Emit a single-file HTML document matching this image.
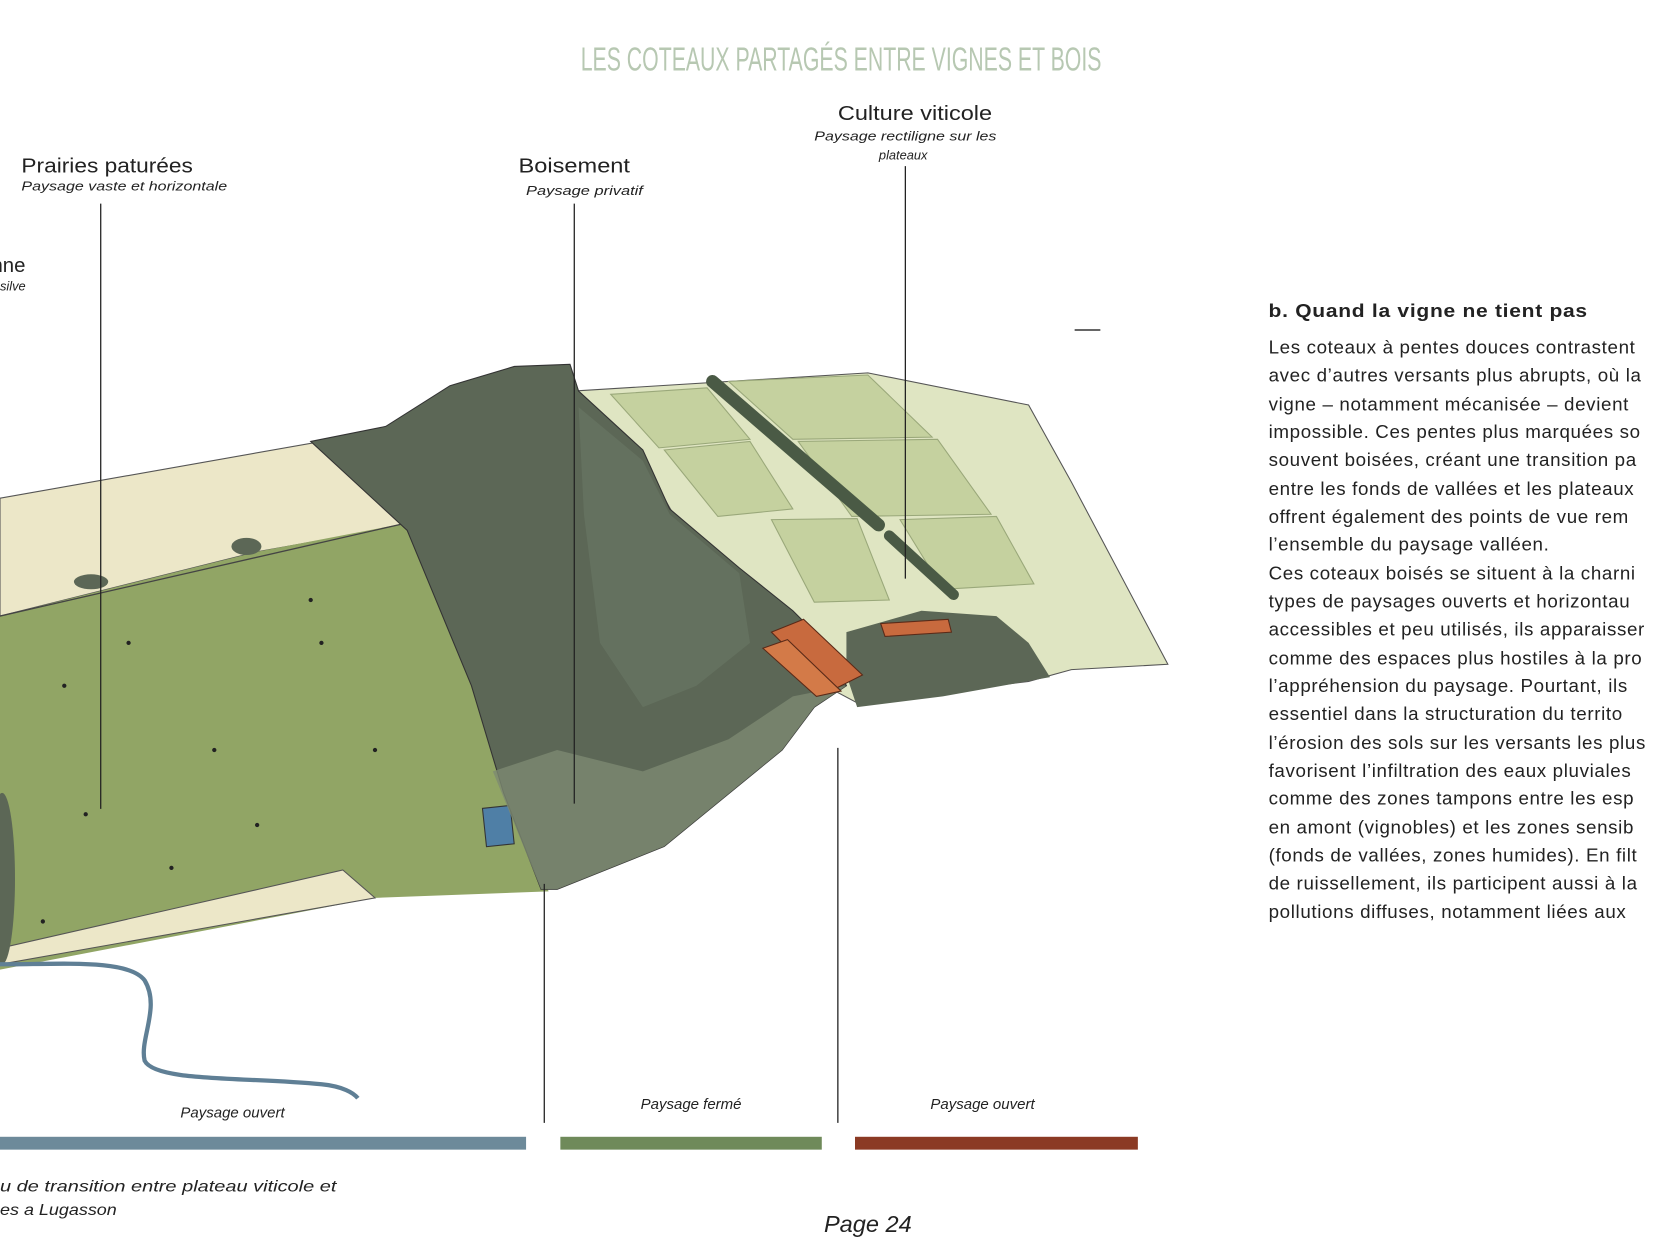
<!DOCTYPE html>
<html><head><meta charset="utf-8">
<style>
html,body{margin:0;padding:0;background:#fff;}
svg{display:block;}
text{font-family:"Liberation Sans",sans-serif;}
</style></head>
<body>
<svg width="1680" height="1260" viewBox="0 0 1568 1176" xmlns="http://www.w3.org/2000/svg">
<rect width="1568" height="1176" fill="#fff"/>
<text x="785" y="66" text-anchor="middle" font-family="Liberation Sans Narrow, Liberation Sans, sans-serif" font-size="31" fill="#b7c8b2" textLength="486" lengthAdjust="spacingAndGlyphs">LES COTEAUX PARTAGÉS ENTRE VIGNES ET BOIS</text>

<polygon points="0,465 300,412 380,490 240,515 0,575" fill="#ece7c8" stroke="#555" stroke-width="1"/>
<polygon points="0,575 240,515 380,488 440,640 480,740 512,832 350,838 0,905" fill="#91a565"/>
<polygon points="320,812 350,838 0,900 0,885" fill="#ece7c8" stroke="#555" stroke-width="1"/>
<line x1="0" y1="575" x2="380" y2="488" stroke="#444" stroke-width="1.2"/>
<ellipse cx="230" cy="510" rx="14" ry="8" fill="#5c6756"/>
<ellipse cx="85" cy="543" rx="16" ry="7" fill="#5c6756"/>
<rect x="452" y="753" width="26" height="36" fill="#4f7fa6" stroke="#333" stroke-width="1" transform="rotate(-6 465 770)"/>
<polygon points="535,365 810,348 960,378 1000,450 1090,620 1000,625 960,636 800,656 770,640 720,560 640,500 600,430" fill="#dfe5c2" stroke="#555" stroke-width="1"/>
<g fill="#c5d19f" stroke="#9aa87a" stroke-width="1">
<polygon points="570,368 660,362 700,410 615,418"/>
<polygon points="620,420 700,412 740,475 670,482"/>
<polygon points="680,356 810,350 870,408 740,410"/>
<polygon points="745,412 875,410 925,480 795,482"/>
<polygon points="720,485 800,484 830,560 760,562"/>
<polygon points="840,485 930,482 965,545 880,550"/>
</g>
<path d="M665,356 L820,490" stroke="#4a5a45" stroke-width="12" stroke-linecap="round"/>
<path d="M830,500 L890,555" stroke="#4a5a45" stroke-width="10" stroke-linecap="round"/>
<polygon points="290,412 360,398 420,360 480,342 532,340 540,365 600,420 625,475 690,530 740,570 770,600 790,640 760,660 730,700 620,790 520,830 505,830 470,740 440,640 380,495" fill="#5c6756" stroke="#333" stroke-width="1"/>
<polygon points="540,380 600,430 625,480 690,535 700,600 650,640 600,660 560,600 545,480" fill="#677461" opacity="0.8"/>
<polygon points="460,720 520,700 600,720 680,690 740,650 790,640 760,660 730,700 620,790 520,830 505,830" fill="#7d8a72" opacity="0.8"/>
<polygon points="790,590 860,570 930,575 960,600 980,632 880,650 800,660 790,630" fill="#5c6756"/>
<polygon points="720,590 750,578 805,630 775,645" fill="#c86a3e" stroke="#5a2a18" stroke-width="1"/>
<polygon points="712,605 735,597 785,645 762,650" fill="#d37a48" stroke="#5a2a18" stroke-width="1"/>
<polygon points="822,582 885,578 888,590 826,594" fill="#c86a3e" stroke="#5a2a18" stroke-width="1"/>
<ellipse cx="2" cy="820" rx="12" ry="80" fill="#5c6756"/>
<path d="M0,900 C60,900 120,895 135,915 C150,940 130,970 135,990 C145,1010 230,1005 300,1012 C320,1014 330,1020 334,1025" stroke="#5f7f95" stroke-width="4" fill="none"/>
<g fill="#222">
<circle cx="60" cy="640" r="2"/><circle cx="120" cy="600" r="2"/><circle cx="300" cy="600" r="2"/><circle cx="200" cy="700" r="2"/><circle cx="240" cy="770" r="2"/><circle cx="80" cy="760" r="2"/><circle cx="40" cy="860" r="2"/><circle cx="160" cy="810" r="2"/><circle cx="350" cy="700" r="2"/><circle cx="290" cy="560" r="2"/>
</g>
<g stroke="#222" stroke-width="1.2">
<line x1="94" y1="190" x2="94" y2="755"/>
<line x1="536" y1="190" x2="536" y2="750"/>
<line x1="845" y1="155" x2="845" y2="540"/>
<line x1="508" y1="825" x2="508" y2="1048"/>
<line x1="782" y1="698" x2="782" y2="1048"/>
</g>
<line x1="1003" y1="308" x2="1027" y2="308" stroke="#333" stroke-width="1.5"/>
<g fill="#222">
<text x="20" y="161" font-size="19" textLength="160" lengthAdjust="spacingAndGlyphs">Prairies paturées</text>
<text x="20" y="178" font-size="12" font-style="italic" textLength="192" lengthAdjust="spacingAndGlyphs">Paysage vaste et horizontale</text>
<text x="-8" y="254" font-size="19">nne</text>
<text x="0" y="271" font-size="12" font-style="italic">silve</text>
<text x="484" y="161" font-size="19" textLength="104" lengthAdjust="spacingAndGlyphs">Boisement</text>
<text x="491" y="182" font-size="12" font-style="italic" textLength="109" lengthAdjust="spacingAndGlyphs">Paysage privatif</text>
<text x="782" y="112" font-size="19" textLength="144" lengthAdjust="spacingAndGlyphs">Culture viticole</text>
<text x="760" y="131" font-size="12" font-style="italic" textLength="170" lengthAdjust="spacingAndGlyphs">Paysage rectiligne sur les</text>
<text x="843" y="149" font-size="12" font-style="italic" text-anchor="middle">plateaux</text>
<text x="217" y="1043" font-size="14" font-style="italic" text-anchor="middle">Paysage ouvert</text>
<text x="645" y="1035" font-size="14" font-style="italic" text-anchor="middle">Paysage fermé</text>
<text x="917" y="1035" font-size="14" font-style="italic" text-anchor="middle">Paysage ouvert</text>
<text x="0" y="1112" font-size="15" font-style="italic" textLength="314" lengthAdjust="spacingAndGlyphs">u de transition entre plateau viticole et</text>
<text x="0" y="1134" font-size="15" font-style="italic" textLength="109" lengthAdjust="spacingAndGlyphs">es a Lugasson</text>
<text x="810" y="1150" font-size="22" font-style="italic" text-anchor="middle">Page 24</text>
</g>
<rect x="0" y="1061" width="491" height="12" fill="#6d8a9a"/>
<rect x="523" y="1061" width="244" height="12" fill="#6f8a5a"/>
<rect x="798" y="1061" width="264" height="12" fill="#8b3a24"/>
<g fill="#222" font-size="17.5" letter-spacing="0.6">
<text x="1184" y="296" font-weight="bold" textLength="298" lengthAdjust="spacingAndGlyphs">b. Quand la vigne ne tient pas</text>
<text x="1184" y="330">Les coteaux à pentes douces contrastent</text>
<text x="1184" y="356">avec d’autres versants plus abrupts, où la</text>
<text x="1184" y="383">vigne – notamment mécanisée – devient</text>
<text x="1184" y="409">impossible. Ces pentes plus marquées so</text>
<text x="1184" y="435">souvent boisées, créant une transition pa</text>
<text x="1184" y="462">entre les fonds de vallées et les plateaux</text>
<text x="1184" y="488">offrent également des points de vue rem</text>
<text x="1184" y="514">l’ensemble du paysage valléen.</text>
<text x="1184" y="541">Ces coteaux boisés se situent à la charni</text>
<text x="1184" y="567">types de paysages ouverts et horizontau</text>
<text x="1184" y="593">accessibles et peu utilisés, ils apparaisser</text>
<text x="1184" y="620">comme des espaces plus hostiles à la pro</text>
<text x="1184" y="646">l’appréhension du paysage. Pourtant, ils</text>
<text x="1184" y="672">essentiel dans la structuration du territo</text>
<text x="1184" y="699">l’érosion des sols sur les versants les plus</text>
<text x="1184" y="725">favorisent l’infiltration des eaux pluviales</text>
<text x="1184" y="751">comme des zones tampons entre les esp</text>
<text x="1184" y="778">en amont (vignobles) et les zones sensib</text>
<text x="1184" y="804">(fonds de vallées, zones humides). En filt</text>
<text x="1184" y="830">de ruissellement, ils participent aussi à la</text>
<text x="1184" y="857">pollutions diffuses, notamment liées aux</text>
</g>
</svg>
</body></html>
